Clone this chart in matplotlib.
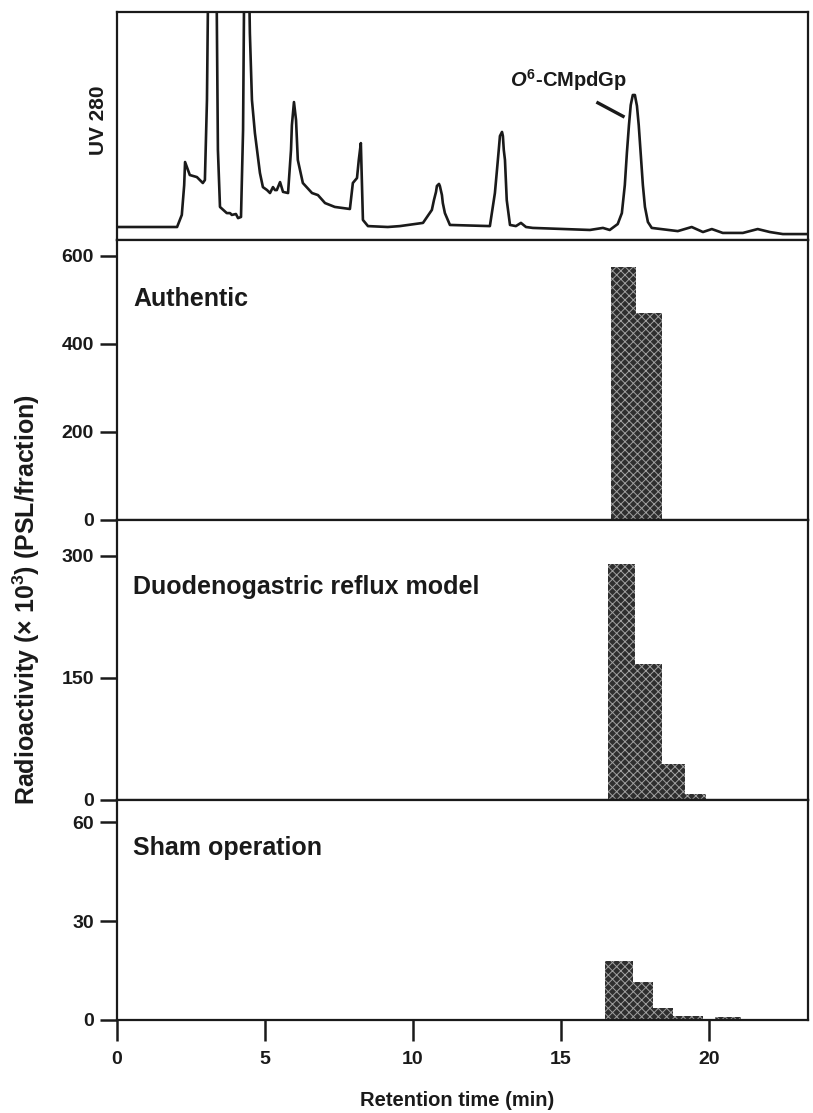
import matplotlib
matplotlib.use("Agg")
import matplotlib.pyplot as plt

plt.rcParams['font.family'] = ['Liberation Sans', 'DejaVu Sans']
plt.rcParams['font.weight'] = 'bold'
plt.rcParams['mathtext.fontset'] = 'custom'
plt.rcParams['mathtext.rm'] = 'Liberation Sans:bold'
plt.rcParams['mathtext.it'] = 'Liberation Sans:bold:italic'
plt.rcParams['mathtext.bf'] = 'Liberation Sans:bold'
plt.rcParams['hatch.linewidth'] = 0.7

# ---------------- data ----------------
# UV 280 chromatogram trace: (retention time in min, relative absorbance, panel = 0..100)
uv_points = [
    (0.0, 5.7), (2.03, 5.7), (2.19, 11.0), (2.27, 24.0), (2.30, 34.2), (2.46, 28.5),
    (2.70, 27.6), (2.90, 25.0), (2.97, 26.3), (3.04, 61.4), (3.11, 150), (3.34, 150),
    (3.41, 39.5), (3.48, 14.5), (3.71, 11.8), (3.82, 11.8), (3.88, 11.0), (4.02, 11.4),
    (4.09, 9.6), (4.19, 10.1), (4.26, 48.2), (4.32, 150), (4.42, 150), (4.49, 90.8),
    (4.56, 61.4), (4.66, 46.9), (4.83, 29.4), (4.93, 23.2), (5.07, 21.9), (5.17, 20.6),
    (5.27, 23.2), (5.34, 21.9), (5.40, 21.9), (5.51, 25.4), (5.61, 21.1), (5.78, 20.6),
    (5.88, 39.5), (5.91, 50.4), (5.98, 60.5), (6.05, 52.6), (6.11, 35.1), (6.28, 25.0),
    (6.59, 20.6), (6.79, 19.7), (7.03, 16.2), (7.36, 14.5), (7.87, 13.6), (7.97, 25.0),
    (8.11, 27.2), (8.17, 35.1), (8.24, 42.5), (8.31, 8.8), (8.48, 6.1), (9.15, 5.7),
    (9.56, 6.1), (10.34, 7.5), (10.64, 13.2), (10.71, 17.5), (10.78, 21.1), (10.81, 23.7),
    (10.88, 24.6), (10.91, 23.7), (10.98, 19.7), (11.01, 16.2), (11.08, 11.8), (11.25, 6.6),
    (12.60, 6.1), (12.77, 20.6), (12.84, 30.7), (12.90, 39.5), (12.94, 45.6), (13.01, 47.4),
    (13.04, 45.6), (13.07, 39.5), (13.11, 35.1), (13.17, 17.5), (13.28, 6.6), (13.48, 6.1),
    (13.65, 7.5), (13.82, 5.7), (14.05, 5.3), (15.98, 4.4), (16.42, 5.3), (16.65, 4.4),
    (16.92, 7.0), (17.06, 11.8), (17.16, 24.1), (17.23, 38.2), (17.30, 50.4), (17.36, 59.2),
    (17.43, 63.6), (17.50, 63.6), (17.57, 58.8), (17.63, 50.4), (17.70, 37.3), (17.77, 24.1),
    (17.84, 14.5), (17.94, 7.9), (18.07, 5.3), (18.95, 3.9), (19.42, 5.7), (19.80, 3.5),
    (20.10, 4.8), (20.47, 3.1), (21.15, 3.1), (21.65, 4.8), (22.06, 3.5), (22.50, 2.6),
    (23.31, 2.6),
]
uv_time = [p[0] for p in uv_points]
uv_abs = [p[1] for p in uv_points]

# Radioactivity per fraction (x 10^3 PSL/fraction): fraction start time, width (min), value
auth_start = [16.70, 17.55]
auth_width = [0.85, 0.85]
auth_value = [575, 470]

duo_start = [16.60, 17.50, 18.40, 19.20]
duo_width = [0.90, 0.90, 0.80, 0.70]
duo_value = [290, 167, 44, 7]

sham_start = [16.50, 17.45, 18.10, 18.80, 20.20]
sham_width = [0.95, 0.65, 0.70, 1.00, 0.90]
sham_value = [18, 11.5, 3.5, 1.2, 1.0]

panel_names = ['Authentic', 'Duodenogastric reflux model', 'Sham operation']
auth_ticks = [0, 200, 400, 600]
duo_ticks = [0, 150, 300]
sham_ticks = [0, 30, 60]
x_ticks = [0, 5, 10, 15, 20]

# ---------------- figure ----------------
W, H = 813, 1113
fig = plt.figure(figsize=(W / 100, H / 100), dpi=100)

left_px, right_px = 117, 808
def rect(top_px, bot_px):
    return [left_px / W, 1 - bot_px / H, (right_px - left_px) / W, (bot_px - top_px) / H]

ax_uv = fig.add_axes(rect(12, 240))
ax_a = fig.add_axes(rect(240, 520), sharex=ax_uv)
ax_d = fig.add_axes(rect(520, 800), sharex=ax_uv)
ax_s = fig.add_axes(rect(800, 1020), sharex=ax_uv)

XMAX = 23.35
ink = '#1a1a1a'
for ax in (ax_uv, ax_a, ax_d, ax_s):
    for sp in ax.spines.values():
        sp.set_linewidth(1.6)
        sp.set_color(ink)
    ax.tick_params(axis='y', direction='out', length=12.5, width=1.8, labelsize=14,
                   pad=4, colors=ink)
    ax.tick_params(axis='x', bottom=False, labelbottom=False)
ax_uv.set_xlim(0, XMAX)

# UV trace
ax_uv.plot(uv_time, uv_abs, color=ink, lw=1.9, solid_joinstyle='round')
ax_uv.set_ylim(0, 100)
ax_uv.set_yticks([])
ax_uv.text(15.25, 64.5, r'$\mathit{O}^{\mathrm{6}}$-CMpdGp', ha='center', va='bottom',
           fontsize=14.5, fontweight='bold', color=ink)
ax_uv.plot([16.2, 17.15], [60.5, 53.9], color=ink, lw=2.4, solid_capstyle='butt')
fig.text(98 / W, 1 - 120 / H, 'UV 280', rotation=90, ha='center', va='center',
         fontsize=15, fontweight='bold', color=ink)

bar_kw = dict(align='edge', facecolor='#2e2e2e', edgecolor='#a0a0a0', hatch='xxxx',
              linewidth=0)

def draw_bars(ax, start, width, value):
    ax.bar(start, value, width=width, **bar_kw)

draw_bars(ax_a, auth_start, auth_width, auth_value)
ax_a.set_ylim(0, 636)
ax_a.set_yticks(auth_ticks)

draw_bars(ax_d, duo_start, duo_width, duo_value)
ax_d.set_ylim(0, 344)
ax_d.set_yticks(duo_ticks)

draw_bars(ax_s, sham_start, sham_width, sham_value)
ax_s.set_ylim(0, 66.7)
ax_s.set_yticks(sham_ticks)

for ax, name, yf in zip((ax_a, ax_d, ax_s), panel_names, (0.79, 0.76, 0.78)):
    ax.text(0.023, yf, name, transform=ax.transAxes, ha='left', va='center',
            fontsize=18, fontweight='bold', color=ink)

ax_s.tick_params(axis='x', bottom=True, labelbottom=True, direction='out', length=15,
                 width=1.8, labelsize=14, pad=7, colors=ink)
ax_s.set_xticks(x_ticks)

fig.text(457 / W, 1 - 1100 / H, 'Retention time (min)', ha='center', va='center',
         fontsize=14.5, fontweight='bold', color=ink)
fig.text(26 / W, 1 - 600 / H, r'Radioactivity ($\times$ 10$^{3}$) (PSL/fraction)',
         rotation=90, ha='center', va='center', fontsize=18, fontweight='bold', color=ink)

fig.savefig('out.png', dpi=100, facecolor='white')
